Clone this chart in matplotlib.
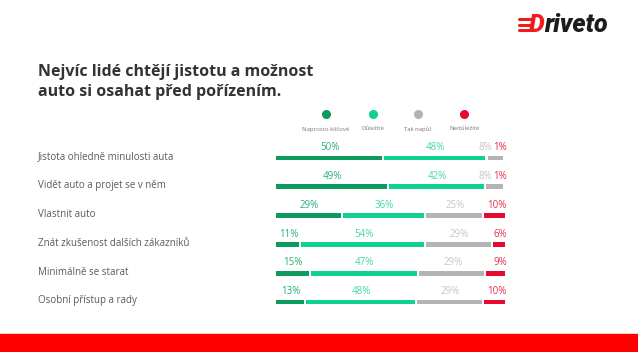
import matplotlib.pyplot as plt
import numpy as np

# data
categories = ['Jistota ohledně minulosti auta', 'Vidět auto a projet se v něm', 'Vlastnit auto',
              'Znát zkušenost dalších zákazníků', 'Minimálně se starat', 'Osobní přístup a rady']
naprosto = [50, 49, 29, 11, 15, 13]
dulezite = [48, 42, 36, 54, 47, 48]
tak_napul = [8, 8, 25, 29, 29, 29]
nedulezite = [1, 1, 10, 6, 9, 10]
series_names = ['Naprosto klíčové', 'Důležité', 'Tak napůl', 'Nedůležité']

bar_colors = ['#0b9b5e', '#10d18e', '#b4b4b4', '#e8092e']
label_colors = ['#2aae76', '#45d8a2', '#c6c6c6', '#e5314f']

W, H = 638, 352
fig = plt.figure(figsize=(W / 100, H / 100), dpi=100)
plt.rcParams['font.family'] = ['Open Sans', 'DejaVu Sans']


def fx(px):
    return px / W


def fy(py):
    return 1 - py / H


# title
fig.text(fx(38), fy(72), 'Nejvíc lidé chtějí jistotu a možnost', fontsize=11.5, fontweight='bold',
         color='#333333', va='center', ha='left')
fig.text(fx(38), fy(92), 'auto si osahat před pořízením.', fontsize=11.5, fontweight='bold',
         color='#333333', va='center', ha='left')

# logo
for i, yy in enumerate([19, 24.5, 30]):
    fig.add_artist(plt.Line2D([fx(519), fx(531)], [fy(yy), fy(yy)], color='#f01c1c', lw=2.2,
                              solid_capstyle='round'))
fig.text(fx(529), fy(25), 'D', fontsize=18, fontweight='heavy', style='italic', color='#f01c1c',
         family='Roboto', va='center', ha='left')
fig.text(fx(544), fy(25), 'riveto', fontsize=18, fontweight='heavy', style='italic', color='#1c1c1c',
         family='Roboto', va='center', ha='left')

# bottom band
fig.add_artist(plt.Rectangle((0, 0), 1, 1 - 334 / H, transform=fig.transFigure, color='#ff0000', zorder=0))

# legend
leg_x = [326, 373, 418, 464]
for x, c, name in zip(leg_x, bar_colors, series_names):
    fig.add_artist(plt.Line2D([fx(x)], [fy(114)], marker='o', markersize=5.5, color=c, lw=0))
    fig.text(fx(x), fy(129), name, fontsize=4.3, color='#777777', ha='center', va='center')

# bars
ax = fig.add_axes([fx(276), fy(316.4), fx(507) - fx(276), (316.4 - 143.6) / H])
ax.set_xlim(0, 100)
ax.set_ylim(5.5, -0.5)
ax.axis('off')

data = np.array([naprosto, dulezite, tak_napul, nedulezite], dtype=float)
shares = data / data.sum(axis=0) * 100
gap = 0.9
y = np.arange(len(categories))
left = np.zeros(len(categories))
for k in range(4):
    ax.barh(y, shares[k] - gap, left=left, height=0.16, color=bar_colors[k])
    for i in range(len(categories)):
        lbl = f'{int(data[k, i])}%'
        if k == 3:
            ax.text(100, y[i] - 0.36, lbl, ha='right', va='center', fontsize=7, color=label_colors[k])
        else:
            cx = left[i] + shares[k, i] / 2
            if k == 2:
                cx = min(cx, 90.5)  # keep clear of the red label
            ax.text(cx, y[i] - 0.36, lbl, ha='center', va='center', fontsize=7, color=label_colors[k])
    left += shares[k]

# category labels
for i, cat in enumerate(categories):
    fig.text(fx(38), fy(157 + 28.8 * i), cat, fontsize=7, color='#5a5a5a', ha='left', va='center')

fig.savefig('out.png', dpi=100, facecolor='white')
